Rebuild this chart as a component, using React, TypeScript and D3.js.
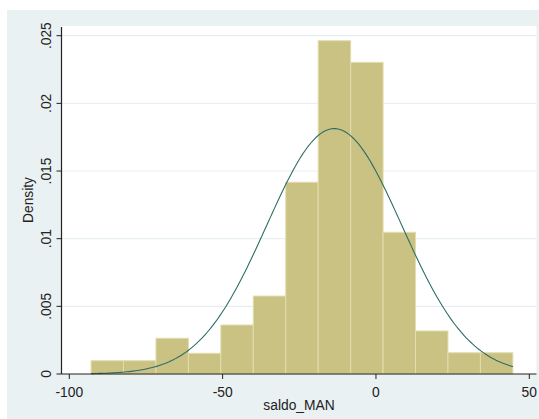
import React from 'react';
import * as d3 from 'd3';

// histogram bins (left edges) and densities
const binStart = -92.9;
const binWidth = 10.58;
const densities = [
  0.00098, 0.00098, 0.00264, 0.00153, 0.00362, 0.00576, 0.01417,
  0.02463, 0.02303, 0.01047, 0.00318, 0.00157, 0.00157,
];

// fitted normal curve parameters
const normMean = -13.6;
const normSd = 22;

const xTicks = [-100, -50, 0, 50];
const yTicks = [0, 0.005, 0.01, 0.015, 0.02, 0.025];
const yTickLabels = ['0', '.005', '.01', '.015', '.02', '.025'];

const App = () => {
  const width = 539;
  const height = 419;
  const plot = { left: 61.5, right: 536.5, top: 26, bottom: 374 };

  const x = d3.scaleLinear().domain([-100, 50]).range([69.3, 529.3]);
  const y = d3.scaleLinear().domain([0, 0.025]).range([plot.bottom, 35.7]);

  const bins = densities.map((d, i) => ({
    x0: binStart + i * binWidth,
    x1: binStart + (i + 1) * binWidth,
    d,
  }));

  const xMin = binStart;
  const xMax = binStart + densities.length * binWidth;
  const curvePts = d3.range(0, 201).map((i) => {
    const v = xMin + ((xMax - xMin) * i) / 200;
    const z = (v - normMean) / normSd;
    return [v, Math.exp(-0.5 * z * z) / (normSd * Math.sqrt(2 * Math.PI))] as [number, number];
  });
  const line = d3
    .line<[number, number]>()
    .x((p) => x(p[0]))
    .y((p) => y(p[1]));

  const font = 'Arial, "Liberation Sans", sans-serif';
  const fs = 13.8;

  return (
    <svg
      width={width}
      height={height}
      style={{ position: 'absolute', left: 0, top: 0, background: '#ffffff' }}
    >
      {/* outer graph region */}
      <rect x={7} y={10} width={width - 7} height={height - 10} fill="#e9f1f3" />
      {/* plot region */}
      <rect
        x={plot.left}
        y={plot.top}
        width={plot.right - plot.left}
        height={plot.bottom - plot.top}
        fill="#ffffff"
      />

      {/* grid lines */}
      {yTicks.slice(1).map((t) => (
        <line
          key={t}
          x1={plot.left}
          x2={plot.right}
          y1={y(t)}
          y2={y(t)}
          stroke="#e6eff1"
          strokeWidth={1.2}
        />
      ))}

      {/* bars */}
      {bins.map((b, i) => (
        <rect
          key={i}
          x={x(b.x0)}
          y={y(b.d)}
          width={x(b.x1) - x(b.x0)}
          height={plot.bottom - y(b.d)}
          fill="#cac282"
          stroke="#e2dcae"
          strokeWidth={1}
        />
      ))}

      {/* normal density */}
      <path d={line(curvePts) ?? ''} fill="none" stroke="#2e6d67" strokeWidth={1.1} />

      {/* y axis */}
      <line x1={plot.left} x2={plot.left} y1={plot.top + 1} y2={plot.bottom} stroke="#222" strokeWidth={1.2} />
      {yTicks.map((t, i) => (
        <g key={t}>
          <line x1={plot.left - 5} x2={plot.left} y1={y(t)} y2={y(t)} stroke="#222" strokeWidth={1} />
          <text
            transform={`translate(${plot.left - 11},${y(t)}) rotate(-90)`}
            textAnchor="middle"
            fontFamily={font}
            fontSize={fs}
            fill="#222"
          >
            {yTickLabels[i]}
          </text>
        </g>
      ))}
      <text
        transform={`translate(32.5,${(plot.top + plot.bottom) / 2}) rotate(-90)`}
        textAnchor="middle"
        fontFamily={font}
        fontSize={fs}
        fill="#222"
      >
        Density
      </text>

      {/* x axis */}
      <line x1={plot.left} x2={plot.right} y1={plot.bottom} y2={plot.bottom} stroke="#222" strokeWidth={1.2} />
      {xTicks.map((t) => (
        <g key={t}>
          <line x1={x(t)} x2={x(t)} y1={plot.bottom} y2={plot.bottom + 5} stroke="#222" strokeWidth={1} />
          <text x={x(t)} y={plot.bottom + 23} textAnchor="middle" fontFamily={font} fontSize={fs} fill="#222">
            {t}
          </text>
        </g>
      ))}
      <text
        x={(plot.left + plot.right) / 2}
        y={410}
        textAnchor="middle"
        fontFamily={font}
        fontSize={fs}
        fill="#222"
      >
        saldo_MAN
      </text>
    </svg>
  );
};

export default App;
